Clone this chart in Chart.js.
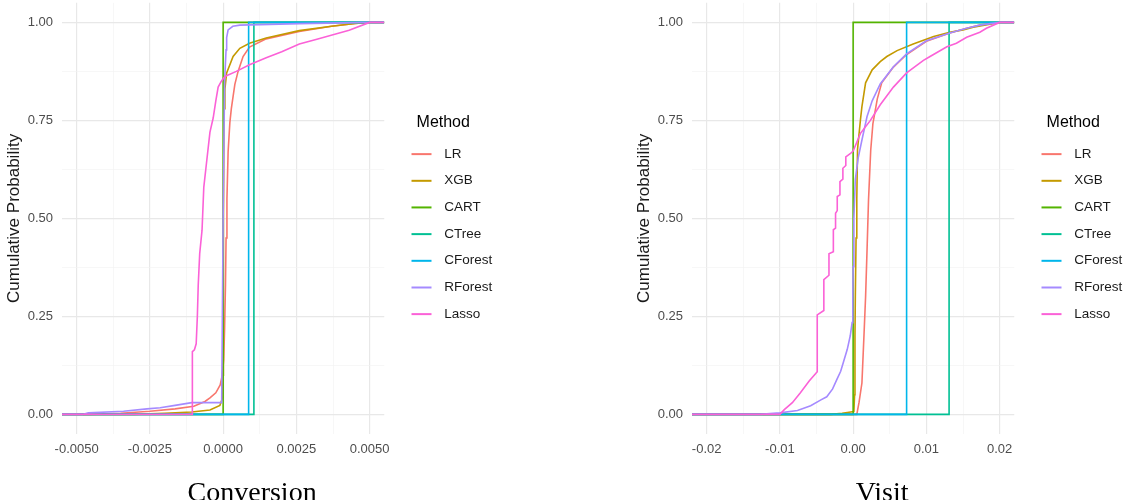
<!DOCTYPE html>
<html>
<head>
<meta charset="utf-8">
<script src="https://cdn.jsdelivr.net/npm/chart.js@4.4.1/dist/chart.umd.min.js"></script>
<style>
  html, body { margin: 0; padding: 0; background: #fff; width: 1128px; height: 500px; overflow: hidden; }
  #wrap { position: relative; width: 1128px; height: 500px; overflow: hidden; }
  canvas { position: absolute; top: -14px; }
  #convChart { left: 0; }
  #visChart { left: 630px; }
</style>
</head>
<body>
<div id="wrap">
  <canvas id="convChart" width="512" height="514"></canvas>
  <canvas id="visChart" width="512" height="514"></canvas>
</div>
<script>
const methods = ['LR', 'XGB', 'CART', 'CTree', 'CForest', 'RForest', 'Lasso'];
const colors = ['#F8766D', '#C49A00', '#53B400', '#00C094', '#00B6EB', '#A58AFF', '#FB61D7'];

// Conversion panel: [x, cumulative probability]
const convLR = [[-0.0055,0],[-0.0045,0],[-0.0035,0.003],[-0.0025,0.008],[-0.00164,0.014],[-0.001,0.021],[-0.00062,0.033],[-0.00045,0.042],[-0.00025,0.055],[-0.0001,0.075],[-0.00003,0.1],[0.00002,0.14],[0.00005,0.22],[0.00008,0.33],[0.0001,0.45],[0.00013,0.55],[0.00017,0.67],[0.00023,0.745],[0.00028,0.78],[0.00034,0.811],[0.0004,0.842],[0.00051,0.875],[0.00068,0.913],[0.0009,0.937],[0.00147,0.958],[0.0026,0.977],[0.0037,0.99],[0.0045,0.997],[0.005,1],[0.0055,1]];
const convXGB = [[-0.0055,0],[-0.003,0],[-0.002,0.003],[-0.00107,0.006],[-0.00045,0.011],[-0.00011,0.023],[-0.00002,0.042],[0,0.1],[0.00001,0.5],[0.00003,0.78],[0.00006,0.83],[0.00012,0.871],[0.00034,0.913],[0.00057,0.934],[0.0009,0.947],[0.00147,0.96],[0.0026,0.979],[0.0037,0.99],[0.0045,0.997],[0.005,1],[0.0055,1]];
const convCART = [[-0.0055,0],[0,0],[0,1],[0.0055,1]];
const convCTree = [[-0.0055,0],[0.00105,0],[0.00105,1],[0.0055,1]];
const convCForest = [[-0.0055,0],[0.00087,0],[0.00087,1],[0.0055,1]];
const convRForest = [[-0.0055,0],[-0.0048,0],[-0.0046,0.004],[-0.0034,0.008],[-0.0026,0.014],[-0.00215,0.017],[-0.00164,0.023],[-0.00107,0.03],[-0.00005,0.03],[0,0.5],[0.00005,0.85],[0.0001,0.93],[0.00012,0.961],[0.00017,0.981],[0.00033,0.99],[0.00057,0.993],[0.0026,0.997],[0.005,1],[0.0055,1]];
const convLasso = [[-0.0055,0],[-0.00105,0],[-0.00105,0.16],[-0.00098,0.165],[-0.00092,0.18],[-0.00088,0.25],[-0.00085,0.33],[-0.0008,0.41],[-0.00072,0.47],[-0.00066,0.58],[-0.00057,0.64],[-0.00045,0.72],[-0.00034,0.756],[-0.00025,0.8],[-0.00017,0.835],[-0.00006,0.85],[0.00006,0.862],[0.00045,0.875],[0.0009,0.892],[0.00147,0.91],[0.002,0.925],[0.0026,0.945],[0.0032,0.957],[0.0043,0.98],[0.005,1],[0.0055,1]];

// Visit panel
const visLR = [[-0.022,0],[0.0005,0],[0.0008,0.03],[0.0012,0.08],[0.0015,0.21],[0.0017,0.3],[0.0019,0.42],[0.0021,0.547],[0.0024,0.674],[0.0027,0.742],[0.0033,0.805],[0.0039,0.846],[0.0055,0.886],[0.0073,0.918],[0.01,0.952],[0.0132,0.973],[0.0155,0.985],[0.0173,0.993],[0.02,1],[0.022,1]];
const visXGB = [[-0.022,0],[-0.003,0],[-0.0015,0.003],[-0.0008,0.005],[0.0001,0.007],[0.0002,0.05],[0.00025,0.2],[0.0003,0.3],[0.0004,0.45],[0.0005,0.55],[0.0006,0.676],[0.001,0.752],[0.0012,0.785],[0.0017,0.846],[0.0026,0.879],[0.0037,0.9],[0.0046,0.913],[0.006,0.928],[0.0082,0.945],[0.011,0.964],[0.0132,0.975],[0.015,0.981],[0.0164,0.988],[0.02,1],[0.022,1]];
const visCART = [[-0.022,0],[0,0],[0,1],[0.022,1]];
const visCTree = [[-0.022,0],[0.0131,0],[0.0131,1],[0.022,1]];
const visCForest = [[-0.022,0],[0.0073,0],[0.0073,1],[0.022,1]];
const visRForest = [[-0.022,0],[-0.0127,0],[-0.01,0.004],[-0.0076,0.01],[-0.0058,0.022],[-0.0044,0.037],[-0.0036,0.045],[-0.0028,0.065],[-0.0022,0.09],[-0.0017,0.11],[-0.0013,0.135],[-0.0008,0.166],[-0.0004,0.2],[-0.00014,0.234],[-0.00005,0.29],[0,0.377],[0.0001,0.5],[0.0003,0.6],[0.0007,0.655],[0.0012,0.7],[0.0019,0.76],[0.0026,0.8],[0.0037,0.843],[0.0055,0.887],[0.0073,0.92],[0.01,0.953],[0.0132,0.973],[0.0155,0.985],[0.0173,0.993],[0.02,1],[0.022,1]];
const visLasso = [[-0.022,0],[-0.01,0],[-0.0094,0.012],[-0.0083,0.03],[-0.0072,0.055],[-0.006,0.085],[-0.0049,0.109],[-0.0049,0.254],[-0.004,0.265],[-0.004,0.344],[-0.0033,0.355],[-0.0033,0.41],[-0.0027,0.415],[-0.0027,0.471],[-0.0024,0.475],[-0.0024,0.513],[-0.00217,0.52],[-0.00217,0.556],[-0.0018,0.56],[-0.0018,0.594],[-0.0014,0.6],[-0.0014,0.628],[-0.001,0.635],[-0.001,0.657],[-0.0004,0.665],[0,0.672],[0.001,0.717],[0.00236,0.75],[0.0037,0.79],[0.0055,0.835],[0.0073,0.871],[0.0096,0.903],[0.0105,0.913],[0.0128,0.938],[0.0141,0.947],[0.0155,0.962],[0.0173,0.975],[0.0182,0.985],[0.02,1],[0.022,1]];

const convTicks = [-0.005, -0.0025, 0, 0.0025, 0.005];
const visTicks = [-0.02, -0.01, 0, 0.01, 0.02];
const probTicks = [0, 0.25, 0.5, 0.75, 1];
const convRange = [-0.0055, 0.0055];
const visRange = [-0.022, 0.022];
const probRange = [-0.05, 1.05];

Chart.defaults.font.family = "'Liberation Sans', Arial, sans-serif";

// majors with a minor gridline half way between each pair
function withMinor(ticks){
    let out = [];
    for (let i = 0; i < ticks.length; i++) {
        out.push(ticks[i]);
        if (i < ticks.length - 1) out.push((ticks[i] + ticks[i+1]) / 2);
    }
    return out;
}

// legend key: short line with empty space to its left
function keyImage(color){
    const c = document.createElement('canvas');
    c.width = 40; c.height = 6;
    const g = c.getContext('2d');
    g.strokeStyle = color;
    g.lineWidth = 2;
    g.beginPath();
    g.moveTo(14, 3);
    g.lineTo(34, 3);
    g.stroke();
    return c;
}

const gridColor = ctx => ctx.index % 2 === 0 ? '#e8e8e8' : '#f1f1f1';
const gridWidth = ctx => ctx.index % 2 === 0 ? 1.2 : 0.6;

function makeChart(id, title, series, xTicks, xRange, decimals){
    const allX = withMinor(xTicks);
    const allY = withMinor(probTicks);
    const datasets = series.map((pts, i) => ({
        label: methods[i],
        data: pts.map(p => ({x: p[0], y: p[1]})),
        borderColor: colors[i],
        backgroundColor: colors[i],
        borderWidth: 1.6,
        pointRadius: 0,
        pointStyle: keyImage(colors[i]),
        tension: 0,
        fill: false,
        order: series.length - i
    }));
    return new Chart(document.getElementById(id).getContext('2d'), {
        type: 'line',
        data: { datasets },
        options: {
            responsive: false,
            animation: false,
            events: [],
            layout: { padding: { top: 0, left: 2, right: 9.8, bottom: 0 } },
            scales: {
                x: {
                    type: 'linear',
                    min: xRange[0],
                    max: xRange[1],
                    afterBuildTicks: s => { s.ticks = allX.map(v => ({value: v})); },
                    afterFit: s => { s.height = 23.6; },
                    ticks: {
                        autoSkip: false,
                        maxRotation: 0,
                        padding: 8,
                        color: '#4d4d4d',
                        font: { size: 13 },
                        callback: (v, i) => i % 2 === 0 ? v.toFixed(decimals) : ''
                    },
                    grid: { color: gridColor, lineWidth: gridWidth, drawTicks: false },
                    border: { display: false }
                },
                y: {
                    type: 'linear',
                    min: probRange[0],
                    max: probRange[1],
                    afterBuildTicks: s => { s.ticks = allY.map(v => ({value: v})); },
                    afterFit: s => { s.width = 60; },
                    ticks: {
                        autoSkip: false,
                        padding: 9,
                        color: '#4d4d4d',
                        font: { size: 13 },
                        callback: (v, i) => i % 2 === 0 ? v.toFixed(2) : ''
                    },
                    grid: { color: gridColor, lineWidth: gridWidth, drawTicks: false },
                    border: { display: false },
                    title: {
                        display: true,
                        text: 'Cumulative Probability',
                        color: '#1a1a1a',
                        font: { size: 17 },
                        padding: { top: 2.5, bottom: 3 }
                    }
                }
            },
            plugins: {
                tooltip: { enabled: false },
                title: {
                    display: true,
                    position: 'bottom',
                    text: title,
                    color: '#000',
                    font: { family: "'Liberation Serif', 'Times New Roman', serif", size: 28, weight: 'normal', lineHeight: 1 },
                    padding: { top: 21.9, bottom: -7.5 }
                },
                legend: {
                    position: 'right',
                    align: 'center',
                    fullSize: false,
                    labels: {
                        usePointStyle: true,
                        pointStyleWidth: 40,
                        padding: 13.17,
                        color: '#1a1a1a',
                        font: { size: 13.5 },
                        sort: (a, b) => a.datasetIndex - b.datasetIndex
                    },
                    title: {
                        display: true,
                        text: 'Method',
                        color: '#000',
                        position: 'center',
                        font: { size: 16 },
                        padding: { top: 11.8, bottom: 0.4 }
                    }
                }
            }
        }
    });
}

makeChart('convChart', 'Conversion',
    [convLR, convXGB, convCART, convCTree, convCForest, convRForest, convLasso],
    convTicks, convRange, 4);
makeChart('visChart', 'Visit',
    [visLR, visXGB, visCART, visCTree, visCForest, visRForest, visLasso],
    visTicks, visRange, 2);
</script>
</body>
</html>
